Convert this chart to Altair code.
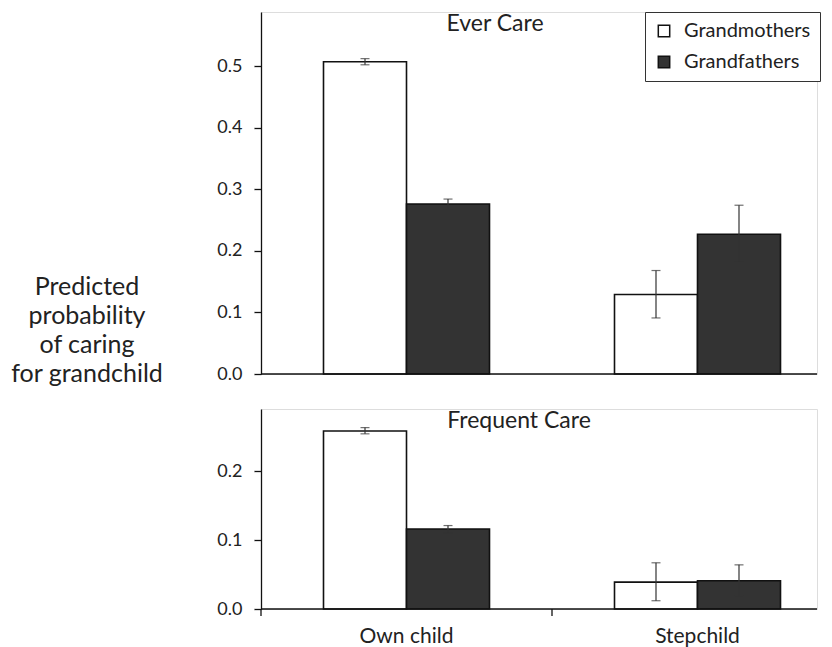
import altair as alt
import pandas as pd

# ---------------- data ----------------
categories = ["Own child", "Stepchild"]
groups = ["Grandmothers", "Grandfathers"]

row_cat = ["Own child", "Own child", "Stepchild", "Stepchild"]
row_grp = ["Grandmothers", "Grandfathers", "Grandmothers", "Grandfathers"]

ever_val = [0.507, 0.276, 0.129, 0.227]
ever_lo = [0.502, 0.268, 0.091, 0.181]
ever_hi = [0.512, 0.284, 0.168, 0.274]

freq_val = [0.258, 0.116, 0.039, 0.041]
freq_lo = [0.254, 0.110, 0.012, 0.019]
freq_hi = [0.263, 0.121, 0.067, 0.064]

ever_ticks = [0.0, 0.1, 0.2, 0.3, 0.4, 0.5]
freq_ticks = [0.0, 0.1, 0.2]

panel_titles = ["Ever Care", "Frequent Care"]
y_title_lines = ["Predicted", "probability", "of caring", "for grandchild"]

# ---------------- styling ----------------
FONT = "Lato"
TXT = "#222222"
W = 556

xscale = alt.Scale(domain=categories, range=[0, 582], paddingInner=0, paddingOuter=0)
offscale = alt.Scale(domain=groups, paddingInner=0, paddingOuter=0.753)
fillscale = alt.Scale(domain=groups, range=["#ffffff", "#333333"])


def panel(vals, los, his, title, title_x, title_y, ymax, ticks, height, bottom, legend, extra=None):
    df = pd.DataFrame({"cat": row_cat, "grp": row_grp, "val": vals, "lo": los, "hi": his})
    base = alt.Chart(df)
    yscale = alt.Scale(domain=[0, ymax], nice=False, zero=True)
    xenc = alt.X("cat:N", scale=xscale, sort=categories, axis=None)
    offenc = alt.XOffset("grp:N", scale=offscale, sort=groups)
    yaxis = alt.Axis(title=None, values=ticks, format=".1f", grid=False,
                     domainColor="#111", domainWidth=1.3, tickColor="#111", tickWidth=1.3,
                     tickSize=7, labelPadding=12, labelFontSize=18, labelFont=FONT,
                     labelColor=TXT)
    bars = base.mark_bar(stroke="#111", strokeWidth=1.6).encode(
        x=xenc,
        xOffset=offenc,
        y=alt.Y("val:Q", scale=yscale, axis=yaxis),
        fill=alt.Fill("grp:N", scale=fillscale, sort=groups, legend=legend),
    )
    err = base.mark_rule(color="#333", strokeWidth=1.2).encode(
        x=xenc, xOffset=offenc, y=alt.Y("lo:Q"), y2="hi:Q")
    cap_lo = base.mark_tick(color="#333", thickness=1.2, size=9).encode(
        x=xenc, xOffset=offenc, y=alt.Y("lo:Q"))
    cap_hi = base.mark_tick(color="#333", thickness=1.2, size=9).encode(
        x=xenc, xOffset=offenc, y=alt.Y("hi:Q"))
    baseline = alt.Chart(pd.DataFrame({"z": [0]})).mark_rule(color="#111", strokeWidth=1.3).encode(
        x=alt.value(0), x2=alt.value(W), y=alt.Y("z:Q"))
    ttl = alt.Chart(pd.DataFrame({"t": [title]})).mark_text(
        font=FONT, fontSize=23, color=TXT, align="center", baseline="middle").encode(
        text="t:N", x=alt.value(title_x), y=alt.value(title_y))
    layers = [bars, err, cap_lo, cap_hi, baseline, ttl]
    if bottom:
        cdf = pd.DataFrame({"cat": categories})
        tk = alt.Chart(cdf).mark_rule(color="#111", strokeWidth=1.3).encode(
            x=alt.X("cat:N", scale=xscale, sort=categories, axis=None, bandPosition=0),
            y=alt.value(height), y2=alt.value(height + 7))
        lab = alt.Chart(cdf).mark_text(
            font=FONT, fontSize=21, color=TXT, align="center", baseline="middle").encode(
            x=alt.X("cat:N", scale=xscale, sort=categories, axis=None),
            text="cat:N", y=alt.value(height + 28))
        layers += [tk, lab]
    if extra is not None:
        layers.append(extra)
    return alt.layer(*layers).properties(width=W, height=height)


ytitle = alt.Chart(pd.DataFrame({"a": [0]})).mark_text(
    font=FONT, fontSize=25, color=TXT, align="center", baseline="middle", lineHeight=29).encode(
    text=alt.value(y_title_lines), x=alt.value(-174), y=alt.value(275))

legend = alt.Legend(title=None, orient="none", legendX=384, legendY=0, strokeColor="#333",
                    padding=9, symbolType="square", symbolSize=130,
                    symbolStrokeColor="#111", symbolStrokeWidth=1.5, labelFontSize=20,
                    labelFont=FONT, labelColor=TXT, rowPadding=11, labelOffset=10,
                    fillColor="white", cornerRadius=0)

top = panel(ever_val, ever_lo, ever_hi, panel_titles[0], 234, 12, 0.5877, ever_ticks, 362,
            False, legend, ytitle)
bot = panel(freq_val, freq_lo, freq_hi, panel_titles[1], 258, 12, 0.29, freq_ticks, 200,
            True, None)

chart = alt.vconcat(top, bot, spacing=35, bounds="flush").resolve_scale(
    fill="independent").resolve_legend(fill="independent").properties(
    padding={"left": 2, "top": 3, "right": 0, "bottom": 0}
).configure_view(strokeWidth=0).configure(background="white")

chart.save("out.html", embed_options={"renderer": "svg", "actions": False})
